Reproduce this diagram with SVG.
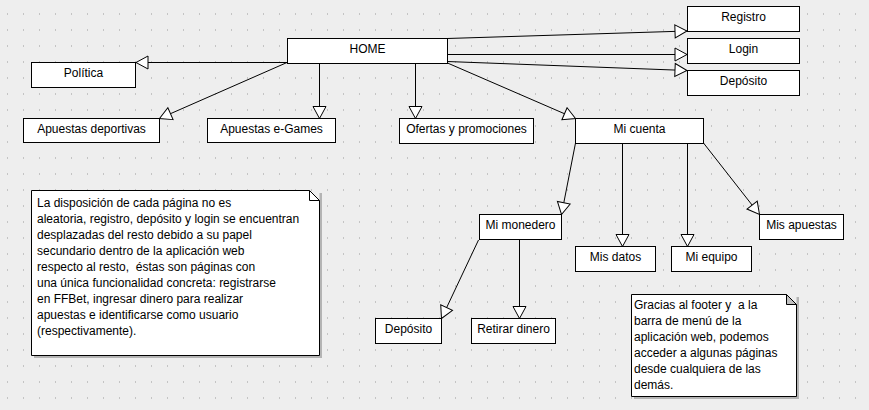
<svg xmlns="http://www.w3.org/2000/svg" width="869" height="410" viewBox="0 0 869 410">
<style>
.box{fill:#fff;stroke:#000;stroke-width:1}
.lbl{font-family:"Liberation Sans",Arial,sans-serif;font-size:12px;fill:#000;text-anchor:middle}
.nt{font-family:"Liberation Sans",Arial,sans-serif;font-size:12px;fill:#000;white-space:pre}
.edge{stroke:#000;stroke-width:1;fill:none;marker-end:url(#tri)}
.shadow{fill:#b4b4b4}
.note{fill:#fff;stroke:#000;stroke-width:1}
</style>
<defs>
<pattern id="grid" x="0" y="0" width="16" height="16" patternUnits="userSpaceOnUse">
<rect x="7" y="13" width="1" height="2" fill="#c4c4c4"/>
</pattern>
<marker id="tri" viewBox="-1 -8 14 16" refX="12" refY="0" markerWidth="14" markerHeight="16" markerUnits="userSpaceOnUse" orient="auto">
<path d="M0,-6.5 L12,0 L0,6.5 Z" fill="#fff" stroke="#000" stroke-width="1"/>
</marker>
</defs>
<rect width="869" height="410" fill="#eeeeee"/>
<rect width="869" height="410" fill="url(#grid)"/>

<g id="connectors">
<line class="edge" x1="447" y1="38.5" x2="687" y2="31"/>
<line class="edge" x1="447" y1="54.5" x2="687" y2="54.5"/>
<line class="edge" x1="447" y1="61.5" x2="687" y2="70.5"/>
<line class="edge" x1="287" y1="62.5" x2="136" y2="62.5"/>
<line class="edge" x1="287" y1="62.5" x2="159.5" y2="118.5"/>
<line class="edge" x1="319.5" y1="63" x2="319.5" y2="118.5"/>
<line class="edge" x1="415.5" y1="63" x2="415.5" y2="118.5"/>
<line class="edge" x1="447.5" y1="63" x2="575.5" y2="118.5"/>
<line class="edge" x1="575.5" y1="143" x2="561.5" y2="214.5"/>
<line class="edge" x1="622.5" y1="143" x2="622.5" y2="246.5"/>
<line class="edge" x1="687.5" y1="143" x2="687.5" y2="246.5"/>
<line class="edge" x1="703.5" y1="143" x2="759.5" y2="214.5"/>
<line class="edge" x1="478.5" y1="240" x2="441.5" y2="318.5"/>
<line class="edge" x1="519.5" y1="239.5" x2="519.5" y2="318.5"/>
</g>

<g id="home"><rect class="box" x="287.5" y="38.5" width="160" height="25"/><text class="lbl" x="367.5" y="53">HOME</text></g>
<g id="registro"><rect class="box" x="687.5" y="6.5" width="112" height="25"/><text class="lbl" x="743.5" y="21">Registro</text></g>
<g id="login"><rect class="box" x="687.5" y="38.5" width="112" height="25"/><text class="lbl" x="743.5" y="53">Login</text></g>
<g id="deposito-top"><rect class="box" x="687.5" y="70.5" width="112" height="25"/><text class="lbl" x="743.5" y="85">Depósito</text></g>
<g id="politica"><rect class="box" x="31.5" y="62.5" width="104" height="25"/><text class="lbl" x="83.5" y="77">Política</text></g>
<g id="apuestas-deportivas"><rect class="box" x="23.5" y="118.5" width="136" height="24"/><text class="lbl" x="91.5" y="133">Apuestas deportivas</text></g>
<g id="apuestas-egames"><rect class="box" x="207.5" y="118.5" width="128" height="24"/><text class="lbl" x="271.5" y="133">Apuestas e-Games</text></g>
<g id="ofertas"><rect class="box" x="399.5" y="118.5" width="134" height="25"/><text class="lbl" x="466.5" y="133">Ofertas y promociones</text></g>
<g id="mi-cuenta"><rect class="box" x="575.5" y="118.5" width="128" height="25"/><text class="lbl" x="639.5" y="133">Mi cuenta</text></g>
<g id="mi-monedero"><rect class="box" x="479.5" y="214.5" width="82" height="25"/><text class="lbl" x="520.5" y="229">Mi monedero</text></g>
<g id="mis-datos"><rect class="box" x="575.5" y="246.5" width="80" height="25"/><text class="lbl" x="615.5" y="261">Mis datos</text></g>
<g id="mi-equipo"><rect class="box" x="671.5" y="246.5" width="80" height="25"/><text class="lbl" x="711.5" y="261">Mi equipo</text></g>
<g id="mis-apuestas"><rect class="box" x="759.5" y="214.5" width="84" height="25"/><text class="lbl" x="801.5" y="229">Mis apuestas</text></g>
<g id="deposito-bottom"><rect class="box" x="375.5" y="318.5" width="66" height="25"/><text class="lbl" x="408.5" y="333">Depósito</text></g>
<g id="retirar-dinero"><rect class="box" x="471.5" y="318.5" width="84" height="25"/><text class="lbl" x="513.5" y="333">Retirar dinero</text></g>

<g id="note-disposicion">
<path class="shadow" d="M322,193 V358 H34 V355.5 H319.5 V193 Z"/>
<path class="note" d="M31.5,190.5 H309.5 L319.5,200.5 V355.5 H31.5 Z"/>
<path d="M309.5,190.5 V200.5 H319.5" fill="none" stroke="#000"/>
<text class="nt" x="37" y="207">La disposición de cada página no es</text>
<text class="nt" x="37" y="223">aleatoria, registro, depósito y login se encuentran</text>
<text class="nt" x="37" y="239">desplazadas del resto debido a su papel</text>
<text class="nt" x="37" y="255">secundario dentro de la aplicación web</text>
<text class="nt" x="37" y="271">respecto al resto,  éstas son páginas con</text>
<text class="nt" x="37" y="287">una única funcionalidad concreta: registrarse</text>
<text class="nt" x="37" y="303">en FFBet, ingresar dinero para realizar</text>
<text class="nt" x="37" y="319">apuestas e identificarse como usuario</text>
<text class="nt" x="37" y="335">(respectivamente).</text>
</g>

<g id="note-footer">
<path class="shadow" d="M799,297 V399 H634 V396.5 H796.5 V297 Z"/>
<path class="note" d="M631.5,294.5 H786.5 L796.5,304.5 V396.5 H631.5 Z"/>
<path d="M786.5,294.5 L796.5,304.5 H786.5 Z" fill="#c0c0c0" stroke="#000"/>
<text class="nt" x="634" y="309">Gracias al footer y  a la</text>
<text class="nt" x="634" y="325">barra de menú de la</text>
<text class="nt" x="634" y="341">aplicación web, podemos</text>
<text class="nt" x="634" y="357">acceder a algunas páginas</text>
<text class="nt" x="634" y="373">desde cualquiera de las</text>
<text class="nt" x="634" y="389">demás.</text>
</g>
</svg>
